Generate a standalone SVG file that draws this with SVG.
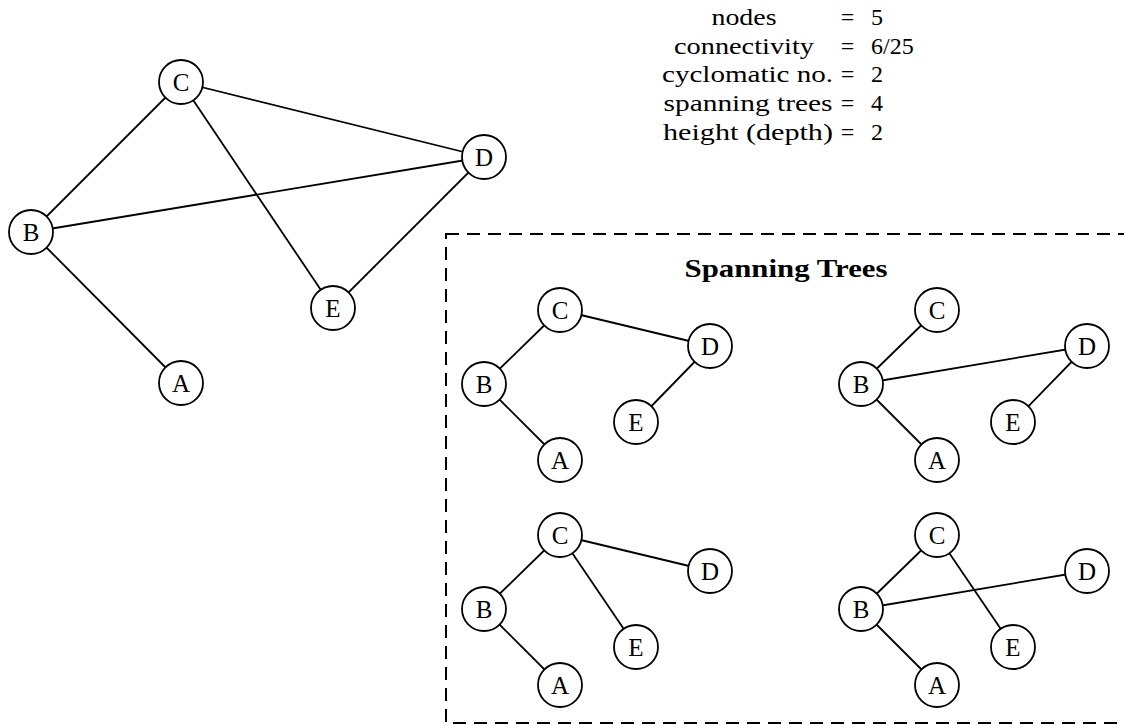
<svg xmlns="http://www.w3.org/2000/svg" width="1124" height="725" viewBox="0 0 1124 725">
<style>
.e{stroke:#000;stroke-width:1.8;fill:none}
.n circle{fill:#fff;stroke:#000;stroke-width:1.8}
.n text{font-family:'Liberation Serif','Times New Roman',serif;font-size:25px;text-anchor:middle;fill:#000}
.s{font-family:'Liberation Serif','Times New Roman',serif;font-size:24px;fill:#000}
.c{text-anchor:middle}
.t{font-family:'Liberation Serif','Times New Roman',serif;font-size:25px;font-weight:bold;text-anchor:middle;fill:#000}
.box{fill:none;stroke:#000;stroke-width:2;stroke-dasharray:13 8}
</style>
<rect width="1124" height="725" fill="#fff"/>

<g id="stats">
<text class="s c" x="744" y="25" textLength="65" lengthAdjust="spacingAndGlyphs">nodes</text>
<text class="s c" x="744" y="54" textLength="140" lengthAdjust="spacingAndGlyphs">connectivity</text>
<text class="s c" x="747.5" y="82" textLength="171" lengthAdjust="spacingAndGlyphs">cyclomatic no.</text>
<text class="s c" x="748" y="111" textLength="169" lengthAdjust="spacingAndGlyphs">spanning trees</text>
<text class="s c" x="748" y="140" textLength="170" lengthAdjust="spacingAndGlyphs">height (depth)</text>
<text class="s c" x="847.5" y="25">=</text>
<text class="s c" x="847.5" y="54">=</text>
<text class="s c" x="847.5" y="82">=</text>
<text class="s c" x="847.5" y="111">=</text>
<text class="s c" x="847.5" y="140">=</text>
<text class="s" x="871" y="25">5</text>
<text class="s" x="871" y="54">6/25</text>
<text class="s" x="871" y="82">2</text>
<text class="s" x="871" y="111">4</text>
<text class="s" x="871" y="140">2</text>
</g>

<rect id="frame" class="box" x="446" y="234" width="700" height="489"/>
<text id="title" class="t" x="786" y="277" textLength="203" lengthAdjust="spacingAndGlyphs">Spanning Trees</text>

<g id="connectors">
<line class="e" x1="181" y1="82" x2="31" y2="232"/>
<line class="e" x1="181" y1="82" x2="484" y2="157"/>
<line class="e" x1="181" y1="82" x2="333" y2="308"/>
<line class="e" x1="31" y1="232" x2="484" y2="157"/>
<line class="e" x1="31" y1="232" x2="181" y2="383"/>
<line class="e" x1="484" y1="157" x2="333" y2="308"/>
<line class="e" x1="484" y1="384" x2="560" y2="310"/>
<line class="e" x1="560" y1="310" x2="710" y2="346"/>
<line class="e" x1="710" y1="346" x2="636" y2="422"/>
<line class="e" x1="484" y1="384" x2="560" y2="460"/>
<line class="e" x1="861" y1="384" x2="937" y2="310"/>
<line class="e" x1="861" y1="384" x2="1087" y2="346"/>
<line class="e" x1="1087" y1="346" x2="1013" y2="422"/>
<line class="e" x1="861" y1="384" x2="937" y2="460"/>
<line class="e" x1="484" y1="609" x2="560" y2="535"/>
<line class="e" x1="560" y1="535" x2="710" y2="571"/>
<line class="e" x1="560" y1="535" x2="636" y2="647"/>
<line class="e" x1="484" y1="609" x2="560" y2="685"/>
<line class="e" x1="861" y1="609" x2="937" y2="535"/>
<line class="e" x1="861" y1="609" x2="1087" y2="571"/>
<line class="e" x1="937" y1="535" x2="1013" y2="647"/>
<line class="e" x1="861" y1="609" x2="937" y2="685"/>
</g>

<g id="C" class="n" transform="translate(181,82)"><circle r="22"/><text y="8.5">C</text></g>
<g id="D" class="n" transform="translate(484,157)"><circle r="22"/><text y="8.5">D</text></g>
<g id="B" class="n" transform="translate(31,232)"><circle r="22"/><text y="8.5">B</text></g>
<g id="E" class="n" transform="translate(333,308)"><circle r="22"/><text y="8.5">E</text></g>
<g id="A" class="n" transform="translate(181,383)"><circle r="22"/><text y="8.5">A</text></g>

<g id="t1C" class="n" transform="translate(560,310)"><circle r="22"/><text y="8.5">C</text></g>
<g id="t1D" class="n" transform="translate(710,346)"><circle r="22"/><text y="8.5">D</text></g>
<g id="t1B" class="n" transform="translate(484,384)"><circle r="22"/><text y="8.5">B</text></g>
<g id="t1E" class="n" transform="translate(636,422)"><circle r="22"/><text y="8.5">E</text></g>
<g id="t1A" class="n" transform="translate(560,460)"><circle r="22"/><text y="8.5">A</text></g>

<g id="t2C" class="n" transform="translate(937,310)"><circle r="22"/><text y="8.5">C</text></g>
<g id="t2D" class="n" transform="translate(1087,346)"><circle r="22"/><text y="8.5">D</text></g>
<g id="t2B" class="n" transform="translate(861,384)"><circle r="22"/><text y="8.5">B</text></g>
<g id="t2E" class="n" transform="translate(1013,422)"><circle r="22"/><text y="8.5">E</text></g>
<g id="t2A" class="n" transform="translate(937,460)"><circle r="22"/><text y="8.5">A</text></g>

<g id="t3C" class="n" transform="translate(560,535)"><circle r="22"/><text y="8.5">C</text></g>
<g id="t3D" class="n" transform="translate(710,571)"><circle r="22"/><text y="8.5">D</text></g>
<g id="t3B" class="n" transform="translate(484,609)"><circle r="22"/><text y="8.5">B</text></g>
<g id="t3E" class="n" transform="translate(636,647)"><circle r="22"/><text y="8.5">E</text></g>
<g id="t3A" class="n" transform="translate(560,685)"><circle r="22"/><text y="8.5">A</text></g>

<g id="t4C" class="n" transform="translate(937,535)"><circle r="22"/><text y="8.5">C</text></g>
<g id="t4D" class="n" transform="translate(1087,571)"><circle r="22"/><text y="8.5">D</text></g>
<g id="t4B" class="n" transform="translate(861,609)"><circle r="22"/><text y="8.5">B</text></g>
<g id="t4E" class="n" transform="translate(1013,647)"><circle r="22"/><text y="8.5">E</text></g>
<g id="t4A" class="n" transform="translate(937,685)"><circle r="22"/><text y="8.5">A</text></g>
</svg>
